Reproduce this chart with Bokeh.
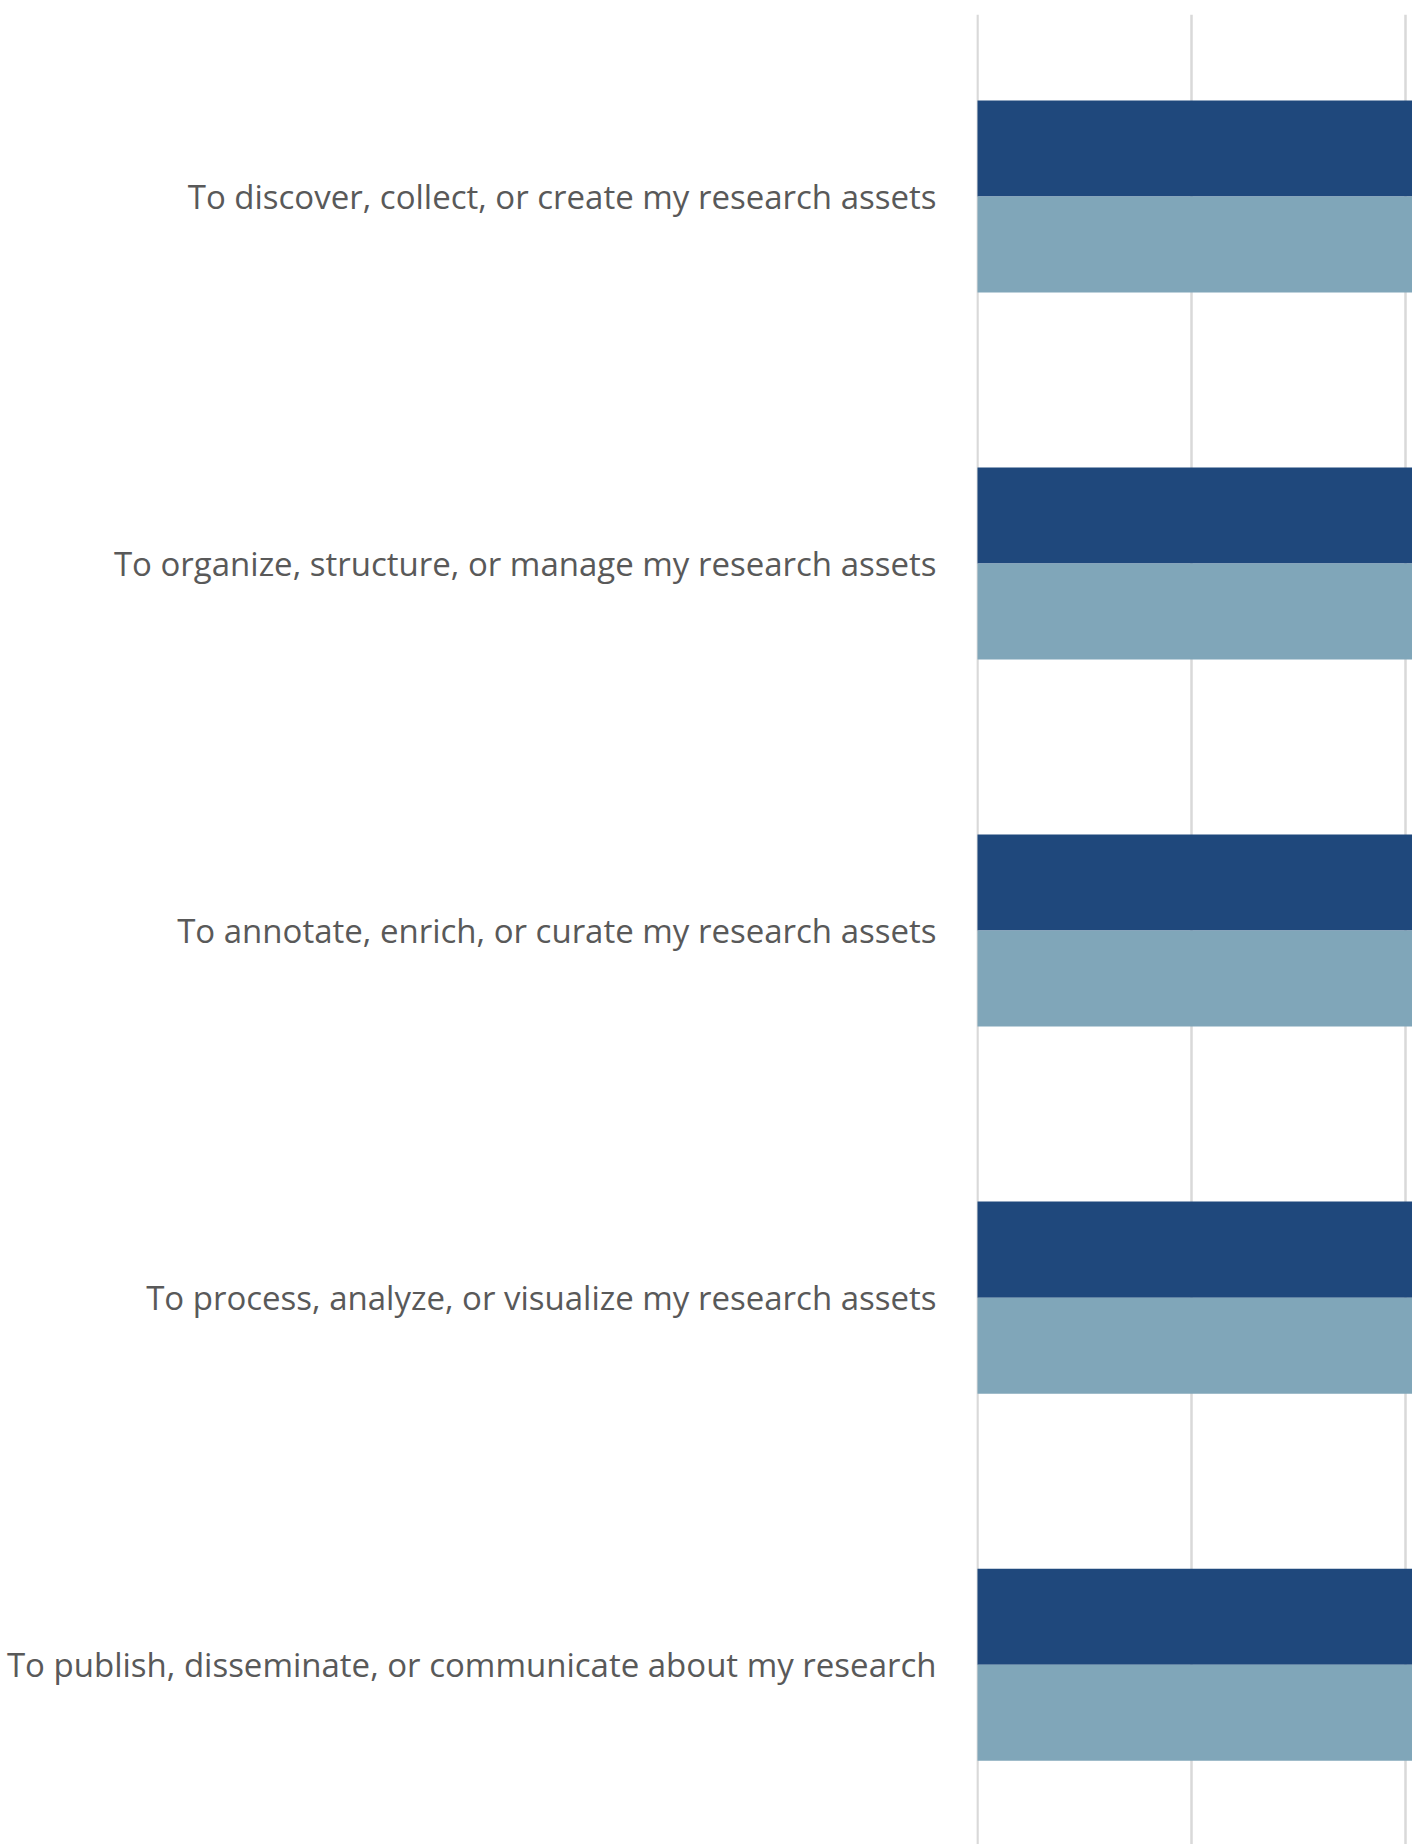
from bokeh.plotting import figure
from bokeh.models import Range1d, FixedTicker, ColumnDataSource
from bokeh.embed import file_html
from bokeh.resources import INLINE

categories = [
    "To discover, collect, or create my research assets",
    "To organize, structure, or manage my research assets",
    "To annotate, enrich, or curate my research assets",
    "To process, analyze, or visualize my research assets",
    "To publish, disseminate, or communicate about my research",
]
series_a = [62, 55, 48, 58, 66]   # dark series (extends past visible area)
series_b = [70, 60, 52, 64, 72]   # light series (extends past visible area)
grid_ticks = [0, 10, 20, 30, 40, 50, 60, 70]

idx = list(range(len(categories)))
bar_h = 0.2616
src = ColumnDataSource(dict(
    ya=[i - bar_h / 2 for i in idx],
    yb=[i + bar_h / 2 for i in idx],
    a=series_a, b=series_b,
))

p = figure(width=1412, height=1844, output_backend="svg", toolbar_location=None,
           x_range=Range1d(-0.047, 20.33), y_range=Range1d(4.49, -0.496),
           min_border_left=976, min_border_right=0, min_border_top=14, min_border_bottom=0)

p.hbar(y="ya", right="a", left=0, height=bar_h, source=src, color="#1F487C", line_color=None)
p.hbar(y="yb", right="b", left=0, height=bar_h, source=src, color="#80A6B9", line_color=None)

p.outline_line_color = None
p.background_fill_color = "white"
p.border_fill_color = "white"

p.xaxis.visible = False
p.xgrid.ticker = FixedTicker(ticks=grid_ticks)
p.xgrid.grid_line_color = "#D9D9D9"
p.xgrid.grid_line_width = 2.5
p.ygrid.grid_line_color = None

yax = p.yaxis[0]
yax.ticker = FixedTicker(ticks=idx)
yax.major_label_overrides = {i: c for i, c in zip(idx, categories)}
yax.axis_line_color = None
yax.major_tick_line_color = None
yax.minor_tick_line_color = None
yax.major_label_standoff = 34
yax.major_label_text_font = "Open Sans"
yax.major_label_text_font_size = "33px"
yax.major_label_text_color = "#595959"

open("out.html", "w").write(file_html(p, INLINE))
